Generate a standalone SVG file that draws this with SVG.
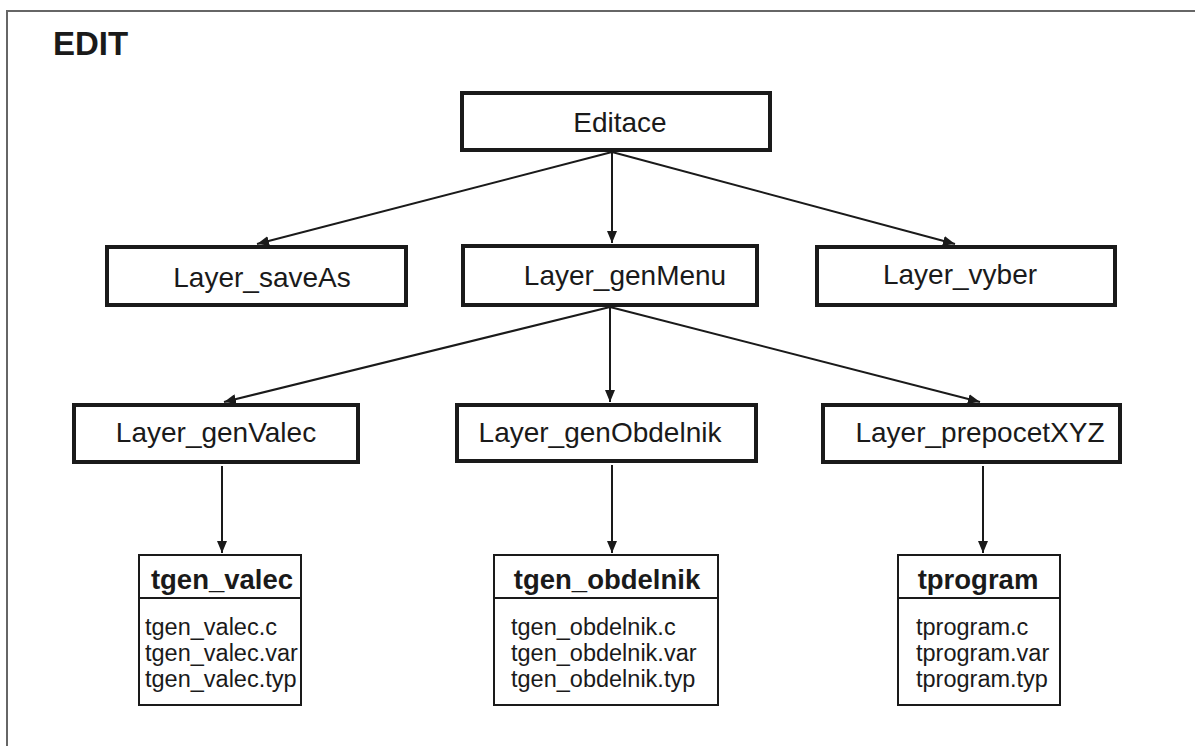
<svg xmlns="http://www.w3.org/2000/svg" width="1195" height="746" viewBox="0 0 1195 746">
<defs>
<marker id="ah" viewBox="0 0 12 10" refX="12" refY="5" markerWidth="12" markerHeight="10" markerUnits="userSpaceOnUse" orient="auto">
<path d="M0,0 L12,5 L0,10 z" fill="#1a1a1a"/>
</marker>
<style>
.box{fill:#fff;stroke:#1a1a1a;stroke-width:4}
.tbl{fill:#fff;stroke:#1a1a1a;stroke-width:2}
.lbl{font-family:"Liberation Sans",Arial,sans-serif;font-size:28px;fill:#1a1a1a;text-anchor:middle}
.hdr{font-family:"Liberation Sans",Arial,sans-serif;font-size:27.5px;font-weight:bold;fill:#1a1a1a;text-anchor:middle}
.row{font-family:"Liberation Sans",Arial,sans-serif;font-size:23.5px;fill:#1a1a1a}
.con{stroke:#1a1a1a;stroke-width:2;fill:none;marker-end:url(#ah)}
</style>
</defs>
<rect width="1195" height="746" fill="#fff"/>
<path d="M7,746 V11 H1195" fill="none" stroke="#666" stroke-width="2"/>
<text x="53" y="55" font-family="Liberation Sans,Arial,sans-serif" font-size="33" font-weight="bold" fill="#1a1a1a">EDIT</text>

<g id="connectors">
<line class="con" x1="612" y1="152" x2="257" y2="244"/>
<line class="con" x1="612" y1="152" x2="612" y2="243"/>
<line class="con" x1="612" y1="152" x2="955" y2="244"/>
<line class="con" x1="610" y1="307" x2="224" y2="402"/>
<line class="con" x1="610" y1="307" x2="610" y2="402"/>
<line class="con" x1="610" y1="307" x2="980" y2="402"/>
<line class="con" x1="222" y1="466" x2="222" y2="553"/>
<line class="con" x1="612" y1="465" x2="612" y2="553"/>
<line class="con" x1="983" y1="466" x2="983" y2="553"/>
</g>

<g id="editace">
<rect class="box" x="462" y="93" width="308" height="57"/>
<text class="lbl" x="620" y="132">Editace</text>
</g>
<g id="layer_saveAs">
<rect class="box" x="107" y="247" width="299" height="58"/>
<text class="lbl" x="262" y="287">Layer_saveAs</text>
</g>
<g id="layer_genMenu">
<rect class="box" x="463" y="246" width="294" height="59"/>
<text class="lbl" x="625" y="285">Layer_genMenu</text>
</g>
<g id="layer_vyber">
<rect class="box" x="817" y="247" width="298" height="58"/>
<text class="lbl" x="960" y="284">Layer_vyber</text>
</g>
<g id="layer_genValec">
<rect class="box" x="74" y="405" width="284" height="57"/>
<text class="lbl" x="216" y="442">Layer_genValec</text>
</g>
<g id="layer_genObdelnik">
<rect class="box" x="457" y="405" width="299" height="56"/>
<text class="lbl" x="600" y="442">Layer_genObdelnik</text>
</g>
<g id="layer_prepocetXYZ">
<rect class="box" x="823" y="405" width="297" height="57"/>
<text class="lbl" x="980" y="442">Layer_prepocetXYZ</text>
</g>

<g id="tgen_valec">
<rect class="tbl" x="139" y="555" width="162" height="150"/>
<line x1="139" y1="598" x2="301" y2="598" stroke="#1a1a1a" stroke-width="2"/>
<text class="hdr" x="222" y="589">tgen_valec</text>
<text class="row" x="145" y="635">tgen_valec.c</text>
<text class="row" x="145" y="661">tgen_valec.var</text>
<text class="row" x="145" y="687">tgen_valec.typ</text>
</g>
<g id="tgen_obdelnik">
<rect class="tbl" x="494" y="555" width="224" height="150"/>
<line x1="494" y1="598" x2="718" y2="598" stroke="#1a1a1a" stroke-width="2"/>
<text class="hdr" x="607" y="589">tgen_obdelnik</text>
<text class="row" x="511" y="635">tgen_obdelnik.c</text>
<text class="row" x="511" y="661">tgen_obdelnik.var</text>
<text class="row" x="511" y="687">tgen_obdelnik.typ</text>
</g>
<g id="tprogram">
<rect class="tbl" x="898" y="555" width="162" height="150"/>
<line x1="898" y1="598" x2="1060" y2="598" stroke="#1a1a1a" stroke-width="2"/>
<text class="hdr" x="978" y="589">tprogram</text>
<text class="row" x="916" y="635">tprogram.c</text>
<text class="row" x="916" y="661">tprogram.var</text>
<text class="row" x="916" y="687">tprogram.typ</text>
</g>
</svg>
